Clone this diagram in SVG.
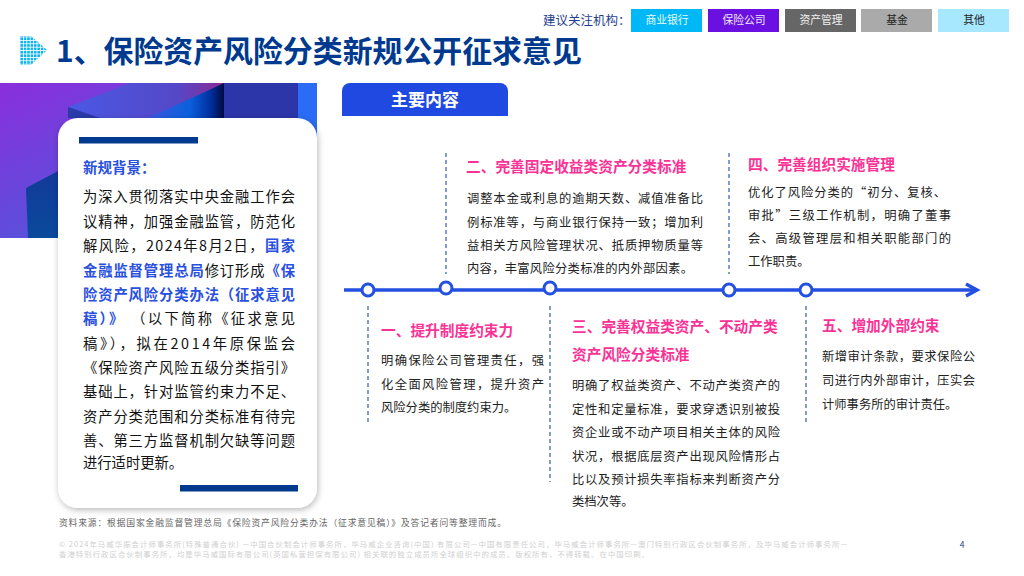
<svg xmlns="http://www.w3.org/2000/svg" width="1024" height="576" viewBox="0 0 1024 576">
<defs>
<style>
text{font-family:"Noto Sans CJK SC","Noto Sans",sans-serif}
.tag{font-size:10.8px;text-anchor:middle}
.h{font-size:14.7px;font-weight:700;fill:#fa3296}
.b{font-size:12.3px;fill:#222}
.l{font-size:14.3px;fill:#111}
.hl{fill:#2a50e0;font-weight:700}
.dash{stroke:#2f5fa8;stroke-width:1.2;stroke-dasharray:4 3;fill:none}
.dot{fill:#fff;stroke:#2350e0;stroke-width:3}
.foot{font-size:7.4px;fill:#cfcfcf}
</style>
<linearGradient id="bg" x1="0" y1="0" x2="1" y2="1"><stop offset="0" stop-color="#8a2fdc"/><stop offset=".55" stop-color="#5a50dc"/><stop offset="1" stop-color="#2a60c8"/></linearGradient>
<linearGradient id="top" x1="0" y1="0" x2="1" y2="0"><stop offset="0" stop-color="#4a58e4"/><stop offset=".7" stop-color="#5548c8"/><stop offset="1" stop-color="#8a2a90"/></linearGradient>
<linearGradient id="fold" x1="0" y1="0" x2="1" y2="0"><stop offset="0" stop-color="#3a5ae0"/><stop offset=".55" stop-color="#0a60dc"/><stop offset=".82" stop-color="#0030a0"/><stop offset="1" stop-color="#000a40"/></linearGradient>
<linearGradient id="low" x1="0" y1="0" x2="0" y2="1"><stop offset="0" stop-color="#123a98"/><stop offset="1" stop-color="#0a4a9c"/></linearGradient>
<filter id="sh" x="-10%" y="-10%" width="120%" height="120%"><feDropShadow dx="1" dy="2" stdDeviation="3" flood-color="#000" flood-opacity=".28"/></filter>
<pattern id="dots" width="3.4" height="3.4" patternUnits="userSpaceOnUse"><rect width="2.6" height="2.6" fill="#12b4f0"/></pattern>
</defs>

<g id="legend">
<text x="543" y="25" font-size="12.5" fill="#1f3f8f">建议关注机构：</text>
<rect x="631" y="9" width="71" height="23" fill="#00b8f5"/><text class="tag" x="667" y="24" fill="#e8f8ff">商业银行</text>
<rect x="708" y="9" width="71" height="23" fill="#6a10e0"/><text class="tag" x="744" y="24" fill="#f0e8ff">保险公司</text>
<rect x="785" y="9" width="71" height="23" fill="#666"/><text class="tag" x="821" y="24" fill="#f0f0f0">资产管理</text>
<rect x="861" y="9" width="71" height="23" fill="#aaa"/><text class="tag" x="897" y="24" fill="#222">基金</text>
<rect x="938" y="9" width="71" height="23" fill="#a8e8ff"/><text class="tag" x="974" y="24" fill="#222">其他</text>
</g>

<g id="title">
<polygon points="20,36 31,36 47,50 31,65 20,65" fill="url(#dots)"/>
<text x="56" y="62" font-size="29.900" font-weight="700" fill="#003a8f">1、保险资产风险分类新规公开征求意见</text>
</g>

<g id="banner">
<rect x="0" y="83" width="317" height="155" fill="url(#bg)"/>
<polygon points="68,107 130,83 224,83 224,118 100,118" fill="url(#top)"/>
<polygon points="68,107 100,118 68,118" fill="#2a3aa8"/>
<polygon points="148,118 222,84 224,83 224,118" fill="url(#fold)"/>
<rect x="224" y="83" width="74" height="40" fill="#2c36a8"/>
<rect x="298" y="83" width="19" height="70" fill="#2a6cf5"/>
<polygon points="26,188 60,170 60,238 28,238" fill="url(#low)"/>
</g>

<g id="background-card">
<rect x="58" y="118" width="259" height="390" rx="20" fill="#fff" filter="url(#sh)"/>
<rect x="79" y="137" width="119" height="6.500" fill="#003a8f"/>
<rect x="180" y="485" width="118" height="6.500" fill="#003a8f"/>
<text x="83" y="173" font-size="14.5" class="hl">新规背景：</text>
<text class="l" x="83" y="202" textLength="212">为深入贯彻落实中央金融工作会</text>
<text class="l" x="83" y="226.500" textLength="212">议精神，加强金融监管，防范化</text>
<text class="l" x="83" y="251" textLength="212">解风险，2024年8月2日，<tspan class="hl">国家</tspan></text>
<text class="l" x="83" y="275.500" textLength="212"><tspan class="hl">金融监督管理总局</tspan>修订形成<tspan class="hl">《保</tspan></text>
<text class="l hl" x="83" y="299.500" textLength="212">险资产风险分类办法（征求意见</text>
<text class="l" x="83" y="324" textLength="212"><tspan class="hl">稿）》</tspan> （以下简称《征求意见</text>
<text class="l" x="83" y="348.500" textLength="212">稿》），拟在2014年原保监会</text>
<text class="l" x="83" y="373" textLength="212">《保险资产风险五级分类指引》</text>
<text class="l" x="83" y="397" textLength="212">基础上，针对监管约束力不足、</text>
<text class="l" x="83" y="421.500" textLength="212">资产分类范围和分类标准有待完</text>
<text class="l" x="83" y="445.500" textLength="212">善、第三方监督机制欠缺等问题</text>
<text class="l" x="83" y="468">进行适时更新。</text>
</g>

<g id="main-header">
<path d="M342 116V91a8 8 0 0 1 8-8H500a8 8 0 0 1 8 8V116Z" fill="#1f49e0"/>
<text x="425" y="106" font-size="17" font-weight="700" fill="#fff" text-anchor="middle">主要内容</text>
</g>

<g id="connectors">
<line x1="344" y1="290" x2="976" y2="290" stroke="#2350e0" stroke-width="3.500"/>
<polyline points="966,284 977,290 966,296" fill="none" stroke="#2350e0" stroke-width="3.500"/>
<line class="dash" x1="446" y1="153" x2="446" y2="274"/>
<line class="dash" x1="729" y1="153" x2="729" y2="274"/>
<line class="dash" x1="368" y1="306" x2="368" y2="424"/>
<line class="dash" x1="550" y1="306" x2="550" y2="482"/>
<line class="dash" x1="806" y1="306" x2="806" y2="424"/>
<circle class="dot" cx="368" cy="290" r="6"/>
<circle class="dot" cx="446" cy="288" r="6"/>
<circle class="dot" cx="550" cy="288" r="6"/>
<circle class="dot" cx="729" cy="290" r="6"/>
<circle class="dot" cx="806" cy="290" r="6"/>
</g>

<g id="item-1">
<text class="h" x="381" y="336">一、提升制度约束力</text>
<text class="b" x="381" y="365" textLength="163">明确保险公司管理责任，强</text>
<text class="b" x="381" y="389" textLength="163">化全面风险管理，提升资产</text>
<text class="b" x="381" y="412">风险分类的制度约束力。</text>
</g>
<g id="item-2">
<text class="h" x="466" y="172">二、完善固定收益类资产分类标准</text>
<text class="b" x="467" y="203" textLength="236">调整本金或利息的逾期天数、减值准备比</text>
<text class="b" x="467" y="227" textLength="236">例标准等，与商业银行保持一致；增加利</text>
<text class="b" x="467" y="250" textLength="236">益相关方风险管理状况、抵质押物质量等</text>
<text class="b" x="467" y="273" textLength="226">内容，丰富风险分类标准的内外部因素。</text>
</g>
<g id="item-3">
<text class="h" x="572" y="332">三、完善权益类资产、不动产类</text>
<text class="h" x="572" y="360">资产风险分类标准</text>
<text class="b" x="572" y="390" textLength="208">明确了权益类资产、不动产类资产的</text>
<text class="b" x="572" y="414" textLength="208">定性和定量标准，要求穿透识别被投</text>
<text class="b" x="572" y="437" textLength="208">资企业或不动产项目相关主体的风险</text>
<text class="b" x="572" y="460.500" textLength="208">状况，根据底层资产出现风险情形占</text>
<text class="b" x="572" y="484" textLength="208">比以及预计损失率指标来判断资产分</text>
<text class="b" x="572" y="506">类档次等。</text>
</g>
<g id="item-4">
<text class="h" x="748" y="170">四、完善组织实施管理</text>
<text class="b" x="748" y="197" textLength="198">优化了风险分类的“初分、复核、</text>
<text class="b" x="748" y="220" textLength="203">审批”三级工作机制，明确了董事</text>
<text class="b" x="748" y="243" textLength="203">会、高级管理层和相关职能部门的</text>
<text class="b" x="748" y="266">工作职责。</text>
</g>
<g id="item-5">
<text class="h" x="822" y="331">五、增加外部约束</text>
<text class="b" x="822" y="361" textLength="153">新增审计条款，要求保险公</text>
<text class="b" x="822" y="385" textLength="153">司进行内外部审计，压实会</text>
<text class="b" x="822" y="409">计师事务所的审计责任。</text>
</g>

<g id="footer">
<text x="59" y="526" font-size="8.800" fill="#666" textLength="447">资料来源：根据国家金融监督管理总局《保险资产风险分类办法（征求意见稿）》及答记者问等整理而成。</text>
<text class="foot" x="59" y="547" textLength="788">© 2024年马威华振会计师事务所(特殊普通合伙) —中国合伙制会计师事务所，毕马威企业咨询(中国) 有限公司—中国有限责任公司，毕马威会计师事务所—澳门特别行政区合伙制事务所，及毕马威会计师事务所—</text>
<text class="foot" x="59" y="557" textLength="590">香港特别行政区合伙制事务所，均是毕马威国际有限公司(英国私营担保有限公司) 相关联的独立成员所全球组织中的成员。版权所有，不得转载。在中国印刷。</text>
<text x="962" y="548" font-size="8.500" fill="#1f3f8f" text-anchor="middle">4</text>
</g>
</svg>
